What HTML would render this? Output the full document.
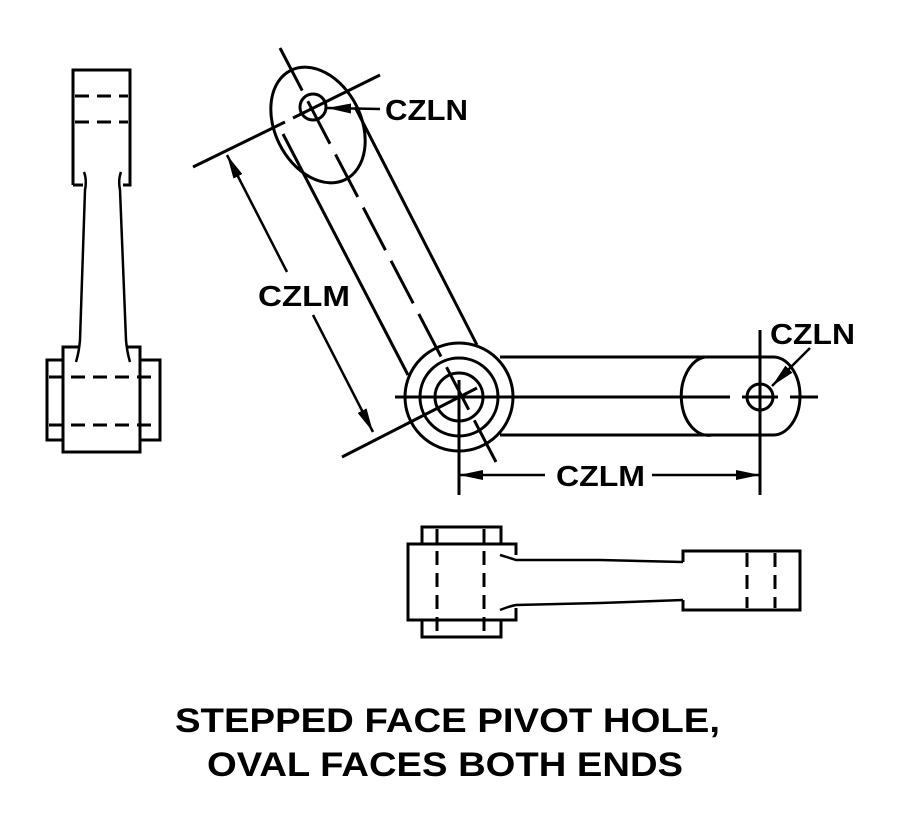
<!DOCTYPE html>
<html><head><style>
html,body{margin:0;padding:0;background:#fff;}
svg{display:block;}
text{font-family:"Liberation Sans",sans-serif;font-weight:bold;fill:#000;}
</style></head><body>
<svg width="900" height="840" viewBox="0 0 900 840" xmlns="http://www.w3.org/2000/svg">
<defs>
<marker id="b" markerWidth="24" markerHeight="10" refX="24" refY="5" orient="auto" markerUnits="userSpaceOnUse" viewBox="0 0 24 10">
<path d="M0,0 L24,5 L0,10 Z" fill="#000"/></marker>
</defs>
<g fill="none" stroke="#000" stroke-width="3">
<!-- left view -->
<path d="M73,185 V70 H130 V185 H123"/>
<path d="M73,185 H83"/>
<path d="M75,96 H128 M75,122 H128" stroke-dasharray="14,8"/>
<path d="M84,172 Q87,180 85,190 L80,340 Q79,352 76,362" stroke-width="2.5"/>
<path d="M121,172 Q118,180 120,190 L126,340 Q127,352 130,362" stroke-width="2.5"/>
<path d="M79,347 H63 V452 H140 V347 H127"/>
<path d="M63,360 H47 V440 H63 M140,360 H160 V440 H140"/>
<path d="M49,377 H158 M49,425 H158" stroke-dasharray="14,8"/>
<!-- pivot circles -->
<circle cx="459" cy="397" r="54"/>
<circle cx="459" cy="397" r="39"/>
<circle cx="459" cy="397" r="24"/>
<!-- right arm -->
<path d="M500,357 H773 M500,435 H773"/>
<path d="M705,357 A27,39 0 0 0 712,435"/>
<path d="M773,357 A27,39 0 0 1 773,435"/>
<circle cx="760" cy="397" r="13"/>
<path d="M395,397 H730 M742,397 H778 M790,397 H818"/>
<path d="M459,380 V495 M760,330 V495"/>
<line x1="545" y1="475" x2="459" y2="475" marker-end="url(#b)" stroke-width="2.5"/>
<line x1="652" y1="475" x2="760" y2="475" marker-end="url(#b)" stroke-width="2.5"/>
<line x1="810" y1="348" x2="772" y2="386" marker-end="url(#b)" stroke-width="2.5"/>
<!-- upper arm -->
<ellipse cx="318" cy="125" rx="61" ry="43" transform="rotate(63.3 318 125)"/>
<path d="M283,134 L408,375 M355,107 L477,345"/>
<circle cx="313" cy="107" r="13"/>
<line x1="280" y1="48" x2="496" y2="462" stroke-dasharray="48,12"/>
<path d="M293,118 L380,75 M193,167 L285,122 M342,457 L477,388"/>
<line x1="380" y1="109" x2="327" y2="108" marker-end="url(#b)" stroke-width="2.5"/>
<line x1="287" y1="272" x2="227" y2="155" marker-end="url(#b)" stroke-width="2.5"/>
<line x1="313" y1="315" x2="373" y2="432" marker-end="url(#b)" stroke-width="2.5"/>
<!-- bottom view -->
<path d="M422,544 V527 H501 V544 M422,620 V637 H501 V620"/>
<path d="M516,555 V544 H408 V620 H516 V608"/>
<path d="M437,529 V636 M484,529 V636" stroke-dasharray="14,8"/>
<path d="M500,555 Q510,558 516,560 L600,560 L683,562 M500,610 Q510,606 516,605 L600,603 L683,600" stroke-width="2.5"/>
<path d="M683,562 V551 H800 V610 H683 V600"/>
<path d="M747,553 V608 M775,553 V608" stroke-dasharray="14,8"/>
</g>
<text x="385" y="120" font-size="29" textLength="83" lengthAdjust="spacingAndGlyphs">CZLN</text>
<text x="770" y="344" font-size="29" textLength="85" lengthAdjust="spacingAndGlyphs">CZLN</text>
<text x="258" y="306" font-size="29" textLength="92" lengthAdjust="spacingAndGlyphs">CZLM</text>
<text x="556" y="486" font-size="29" textLength="89" lengthAdjust="spacingAndGlyphs">CZLM</text>
<text x="175" y="732" font-size="34" textLength="545" lengthAdjust="spacingAndGlyphs">STEPPED FACE PIVOT HOLE,</text>
<text x="207" y="776" font-size="34" textLength="476" lengthAdjust="spacingAndGlyphs">OVAL FACES BOTH ENDS</text>
</svg>
</body></html>
